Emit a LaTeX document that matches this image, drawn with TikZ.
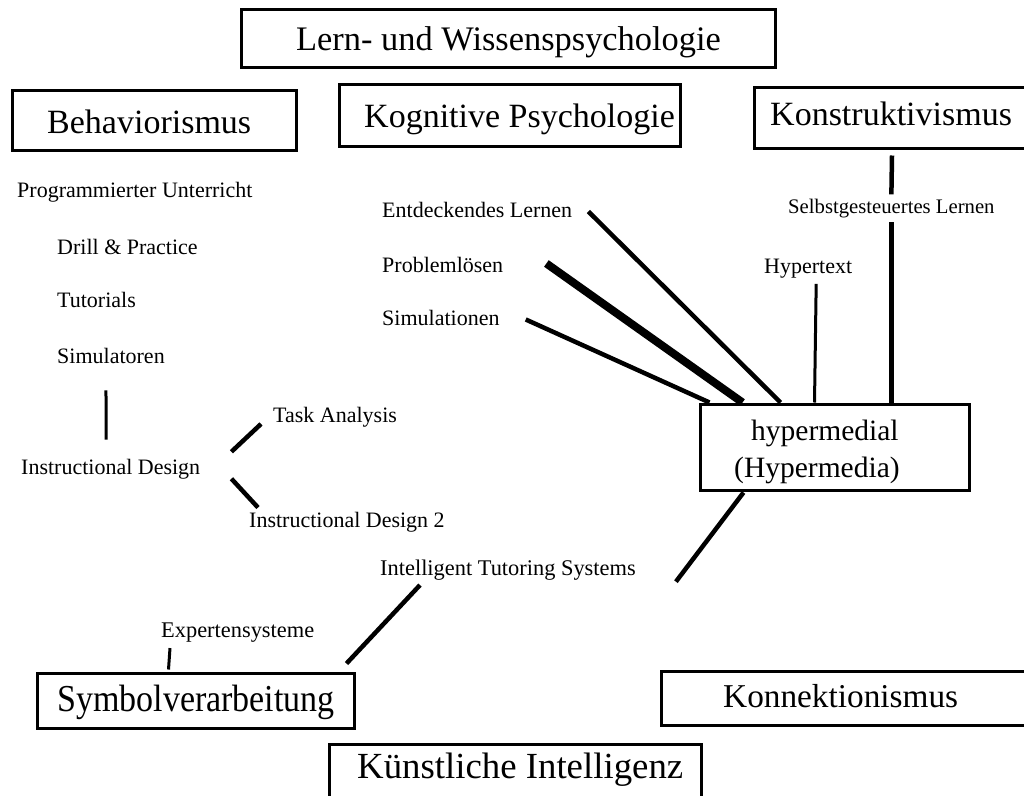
\documentclass[tikz,border=0pt]{standalone}
\usepackage{fontspec}
\setmainfont{Liberation Serif}
\newcommand{\setsize}[1]{\fontsize{#1}{#1}\selectfont}
\begin{document}
\begin{tikzpicture}[x=1pt,y=-1pt,
  frame/.style={draw, line width=3pt, inner sep=0pt},
  head/.style={anchor=base west, inner sep=0pt, font=\setsize{34}},
  term/.style={anchor=base west, inner sep=0pt, font=\setsize{22}},
  link/.style={line width=4.5pt},
  thinlink/.style={line width=3pt},
  boldlink/.style={line width=8pt}]
\fill[white] (0,0) rectangle (1024,795);
\useasboundingbox (0,0) rectangle (1024,795);

% frames of the main areas
\node[frame, minimum width=534pt, minimum height=58pt] (lernbox) at (508,38) {};
\node[frame, minimum width=284pt, minimum height=60pt] (behavbox) at (154,120) {};
\node[frame, minimum width=341pt, minimum height=62pt] (kognbox) at (509.5,115) {};
\node[frame, minimum width=276pt, minimum height=61pt] (konstrbox) at (892,117.5) {};
\node[frame, minimum width=269pt, minimum height=86pt] (hyperbox) at (834.5,447) {};
\node[frame, minimum width=317pt, minimum height=55pt] (symbbox) at (195.5,700.5) {};
\node[frame, minimum width=368pt, minimum height=54pt] (konnbox) at (845,698) {};
\node[frame, minimum width=372pt, minimum height=53pt] (kibox) at (515,770.5) {};

% headings
\node[head, font=\setsize{34.4}] (lern) at (296,50) {Lern- und Wissenspsychologie};
\node[head] (behav) at (47,133) {Behaviorismus};
\node[head] (kogn) at (364,127) {Kognitive Psychologie};
\node[head] (konstr) at (770,125) {Konstruktivismus};
\node[head, font=\setsize{29.5}] (hyper1) at (751,440) {hypermedial};
\node[head, font=\setsize{29.5}] (hyper2) at (734,477) {(Hypermedia)};
\node[head] (symb) at (57,711) {\scalebox{1}[1.12]{Symbolverarbeitung}};
\node[head, font=\setsize{33.3}] (konn) at (723,707) {Konnektionismus};
\node[head, font=\setsize{36.8}] (ki) at (357,778) {Künstliche Intelligenz};

% behaviorist terms
\node[term] (prog) at (17,197) {Programmierter Unterricht};
\node[term] (drill) at (57,254) {Drill \& Practice};
\node[term] (tut) at (57,307) {Tutorials};
\node[term] (simul) at (57,363) {Simulatoren};
\node[term] (instr) at (21,474) {Instructional Design};
\node[term] (ta) at (273,422) {Task Analysis};
\node[term] (id2) at (249,527) {Instructional Design 2};

% cognitive terms
\node[term] (entd) at (382,217) {Entdeckendes Lernen};
\node[term] (probl) at (382,272) {Problemlösen};
\node[term] (simu) at (382,325) {Simulationen};

% constructivist terms
\node[term, font=\setsize{20.7}] (selbst) at (788,213) {Selbstgesteuertes Lernen};
\node[term] (hypt) at (764,273) {Hypertext};

% AI terms
\node[term, font=\setsize{22.4}] (its) at (380,575) {Intelligent Tutoring Systems};
\node[term, font=\setsize{22.4}] (expert) at (161,637) {Expertensysteme};

% connectors
\draw[thinlink] ([xshift=-5pt,yshift=-27pt]simul.south) -- ([xshift=-4.5pt,yshift=19pt]instr.north);
\draw[link] ([xshift=31pt,yshift=17pt]instr.east) -- ([xshift=-12pt,yshift=3pt]ta.south west);
\draw[link] ([xshift=31pt,yshift=-10pt]instr.east) -- ([xshift=9pt,yshift=4pt]id2.north west);

\draw[link] ([xshift=16pt,yshift=-2pt]entd.east) -- ([xshift=82pt]hyperbox.north west);
\draw[boldlink] ([xshift=43pt,yshift=1pt]probl.east) -- ([xshift=44pt]hyperbox.north west);
\draw[link] ([xshift=26pt,yshift=-2pt]simu.east) -- ([xshift=11pt]hyperbox.north west);

\draw[link] ([yshift=-6pt]konstrbox.south) -- ([yshift=4pt]selbst.north);
\draw[link] ([yshift=-4.5pt]selbst.south) -- (selbst.south |- hyperbox.north);
\draw[thinlink] ([xshift=8pt,yshift=-6pt]hypt.south) -- ([xshift=116pt]hyperbox.north west);

\draw[link] ([xshift=45pt,yshift=-1pt]hyperbox.south west) -- ([xshift=40pt,yshift=-12pt]its.east);
\draw[link] ([xshift=40pt,yshift=-5pt]its.south west) -- ([xshift=-9pt,yshift=8pt]symbbox.north east);
\draw[thinlink] ([xshift=9pt,yshift=-6pt]expert.south west) -- ([xshift=133pt,yshift=2pt]symbbox.north west);
\end{tikzpicture}
\end{document}
